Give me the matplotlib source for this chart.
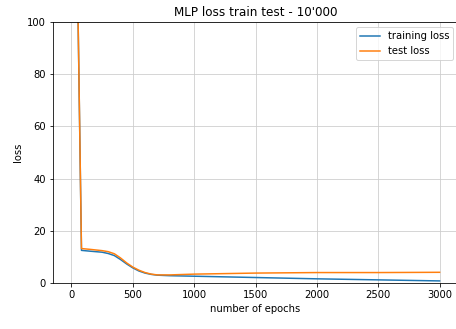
import matplotlib.pyplot as plt

# epochs and loss values
epochs = [0, 82, 150, 250, 300, 350, 400, 450, 500, 550, 600, 650, 700, 800, 1000, 1500, 2000, 2500, 3000]
train_loss = [275, 12.5, 12.2, 11.8, 11.3, 10.5, 9.0, 7.3, 5.8, 4.6, 3.8, 3.3, 3.0, 2.8, 2.6, 2.1, 1.6, 1.2, 0.8]
test_loss = [275, 13.2, 12.9, 12.4, 12.0, 11.2, 9.6, 7.7, 6.1, 4.9, 4.0, 3.4, 3.1, 3.1, 3.4, 3.8, 4.0, 4.0, 4.1]

fig = plt.figure(figsize=(456 / 72, 329 / 72), dpi=72)
ax = fig.add_axes([53 / 456, 46 / 329, 405 / 456, 261 / 329])

ax.plot(epochs, train_loss, label='training loss')
ax.plot(epochs, test_loss, label='test loss')

ax.set_ylim(0, 100)
ax.set_title("MLP loss train test - 10'000")
ax.set_xlabel('number of epochs')
ax.set_ylabel('loss')
ax.legend(loc='upper right')
ax.grid(color='#cccccc')

fig.savefig('out.png', dpi=72)
